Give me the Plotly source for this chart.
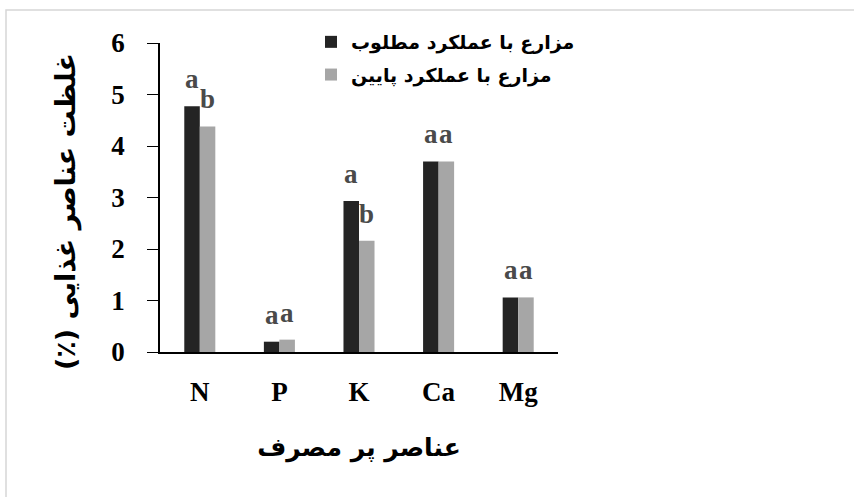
import plotly.graph_objects as go

# Macronutrient concentration (%) in high- and low-yield farms
elements = ["N", "P", "K", "Ca", "Mg"]
good_yield = [4.77, 0.20, 2.93, 3.70, 1.06]
low_yield = [4.38, 0.24, 2.16, 3.70, 1.06]
good_letters = ["a", "a", "a", "a", "a"]
low_letters = ["b", "a", "b", "a", "a"]

series_names = ["مزارع با عملکرد مطلوب", "مزارع با عملکرد پایین"]
y_title = "(٪) غلظت عناصر غذایی"
x_title = "عناصر پر مصرف"
y_ticks = [0, 1, 2, 3, 4, 5, 6]

dark = "#242424"
light = "#a6a6a6"
letter_color = "#4a4a4a"
serif = "Liberation Serif"
persian = "DejaVu Sans"

# plot-area geometry in pixels
W, H = 854, 497
L, R, T, B = 160, 296, 43, 145
pw, ph = W - L - R, H - T - B

fig = go.Figure()
fig.add_trace(go.Bar(x=elements, y=good_yield, name=series_names[0],
                     marker=dict(color=dark, line=dict(width=0)),
                     legendgroup="g1"))
fig.add_trace(go.Bar(x=elements, y=low_yield, name=series_names[1],
                     marker=dict(color=light, line=dict(width=0)),
                     legendgroup="g2"))

# significance letters above each bar
annotations = []
for i, el in enumerate(elements):
    for vals, letters, shift in ((good_yield, good_letters, -7.7),
                                 (low_yield, low_letters, 7.7)):
        annotations.append(dict(
            x=el, y=vals[i], xref="x", yref="y", text=letters[i],
            showarrow=False, xanchor="center", yanchor="bottom",
            xshift=shift, yshift=10,
            font=dict(family=serif, size=27, color=letter_color, weight="bold")))

# rotated y-axis title
annotations.append(dict(
    x=(66 - L) / pw, y=(H - B - 212) / ph, xref="paper", yref="paper",
    text=y_title, showarrow=False, textangle=-90,
    xanchor="center", yanchor="middle",
    font=dict(family=persian, size=27, color="black", weight="bold")))

fig.update_layout(
    width=W, height=H,
    margin=dict(l=L, r=R, t=T, b=B, pad=0),
    paper_bgcolor="white", plot_bgcolor="white",
    barmode="group", bargap=0.61, bargroupgap=0,
    showlegend=True,
    annotations=annotations,
    legend=dict(x=(311 - L) / pw, y=1 + (T - 23) / ph, xanchor="left", yanchor="top",
                bgcolor="rgba(0,0,0,0)", tracegroupgap=5,
                font=dict(family=persian, size=19, color="black", weight="bold"),
                itemwidth=30),
    xaxis=dict(showline=True, linecolor="black", linewidth=1.5,
               ticks="", showgrid=False, zeroline=False,
               tickfont=dict(family=serif, size=27, color="black", weight="bold"),
               ticklabelstandoff=15,
               title=dict(text=x_title, standoff=32,
                          font=dict(family=persian, size=25, color="black",
                                    weight="bold"))),
    yaxis=dict(range=[0, 6], tickvals=y_ticks, showline=True, linecolor="black",
               linewidth=1.5, ticks="outside", ticklen=11, tickwidth=1.2,
               tickcolor="black", showgrid=False, zeroline=False,
               tickfont=dict(family=serif, size=27, color="black", weight="bold"),
               ticklabelstandoff=17),
    shapes=[dict(type="rect", xref="paper", yref="paper",
                 x0=(6 - L) / pw, x1=2.0, y0=-1.0, y1=1 + (T - 10) / ph,
                 line=dict(color="#d6d6d6", width=1.5), fillcolor="rgba(0,0,0,0)",
                 layer="below")],
)

fig.write_html("out.html")
